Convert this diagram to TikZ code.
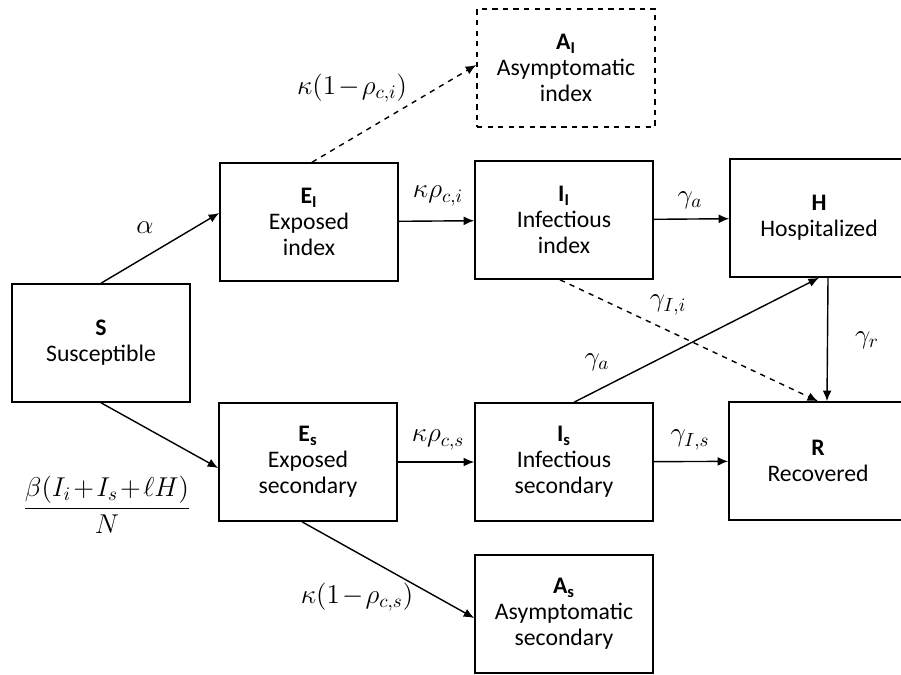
\RequirePackage{fix-cm}
\documentclass[tikz,border=0pt]{standalone}
\usepackage{amsmath}
\usepackage[no-math]{fontspec}
\setmainfont{Carlito}
\usetikzlibrary{
  positioning,
  arrows.meta
}
\medmuskip=1.5mu
\tikzset{
  comp/.style={draw,line width=0.9pt,minimum width=3.56cm,minimum height=2.36cm,
    align=center,inner sep=2pt,font=\fontsize{13.5}{14.8}\selectfont},
  flow/.style={-{Latex[length=6pt,width=5pt]},line width=0.8pt},
  rate/.style={inner sep=1pt,font=\fontsize{15.5}{18}\selectfont}
}

\begin{document}
\begin{tikzpicture}[x=0.02cm,y=-0.02cm]
		\clip (0,0) rectangle (901,674);
		% compartments
		\node [comp] (S) at (101,343) {\textbf{S}\\Susceptible};
		\node [comp] (Ei) at (309,222) {\textbf{E\textsubscript{I}}\\Exposed\\index};
		\node [comp,dashed] (Ai) at (566,68) {\textbf{A\textsubscript{I}}\\Asymptomatic\\index};
		\node [comp] (Ii) at (564,220) {\textbf{I\textsubscript{I}}\\Infectious\\index};
		\node [comp] (H) at (819,218) {\textbf{H}\\Hospitalized};
		\node [comp] (Es) at (308,462) {\textbf{E\textsubscript{s}}\\Exposed\\secondary};
		\node [comp] (Is) at (564,462) {\textbf{I\textsubscript{s}}\\Infectious\\secondary};
		\node [comp] (R) at (818,461) {\textbf{R}\\Recovered};
		\node [comp] (As) at (564,614) {\textbf{A\textsubscript{s}}\\Asymptomatic\\secondary};
		% flows
		\draw [flow] (S.north) -- ([yshift=0.18cm]Ei.west);
		\draw [flow] (S.south) -- ([yshift=-0.12cm]Es.west);
		\draw [flow,dashed] ([xshift=0.06cm]Ei.north) -- ([yshift=0.06cm]Ai.west);
		\draw [flow] (Ei) -- (Ii);
		\draw [flow] (Ii) -- (H);
		\draw [flow,dashed] ([xshift=-0.08cm]Ii.south) -- (R.north);
		\draw [flow] ([xshift=0.18cm]H.south) -- ([xshift=0.18cm]R.north);
		\draw [flow] ([xshift=0.2cm]Is.north) -- (H.south);
		\draw [flow] (Es) -- (Is);
		\draw [flow] (Is) -- (R);
		\draw [flow] ([xshift=-0.12cm]Es.south) -- ([yshift=-0.08cm]As.west);
		% rates
		\node [rate] (alpha) at (145,228) {$\alpha$};
		\node [rate] (kAi) at (352,88) {$\kappa(1-\rho_{c,i})$};
		\node [rate] (kIi) at (438,196) {$\kappa\rho_{c,i}$};
		\node [rate] (gaI) at (690,200) {$\gamma_a$};
		\node [rate] (gIi) at (668,305) {$\gamma_{I,i}$};
		\node [rate] (gaS) at (597,362) {$\gamma_a$};
		\node [rate] (gr) at (867,340) {$\gamma_r$};
		\node [rate] (gIs) at (690,440) {$\gamma_{I,s}$};
		\node [rate] (kIs) at (438,440) {$\kappa\rho_{c,s}$};
		\node [rate] (beta) at (107,505) {$\dfrac{\beta(I_i+I_s+\ell H)}{N}$};
		\node [rate] (kAs) at (357,597) {$\kappa(1-\rho_{c,s})$};
	\end{tikzpicture}
\end{document}
